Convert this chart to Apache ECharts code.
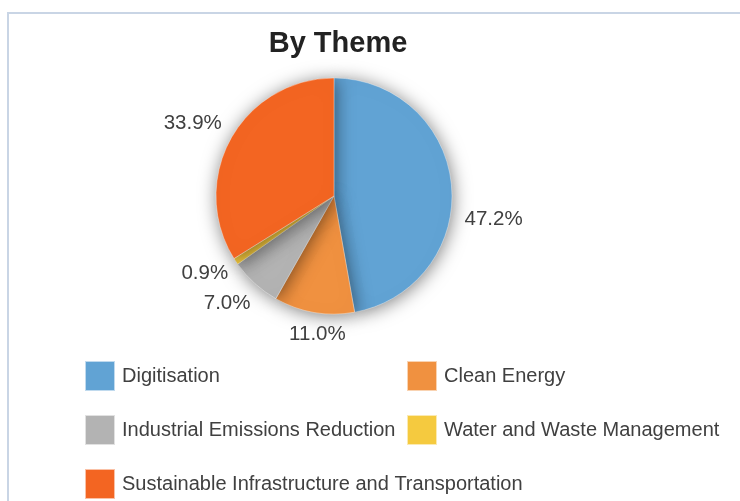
<!DOCTYPE html>
<html>
<head>
<meta charset="utf-8">
<script src="https://cdn.jsdelivr.net/npm/echarts@6/dist/echarts.min.js"></script>
<style>
html,body{margin:0;padding:0;background:#fff;overflow:hidden;}
#frame{position:absolute;left:7px;top:12px;width:800px;height:600px;border-left:2px solid #c9d5e5;border-top:2px solid #c9d5e5;}
#chart{position:absolute;left:0;top:0;width:740px;height:501px;}
</style>
</head>
<body>
<div id="frame"></div>
<div id="chart"></div>
<script>
var categories = ['Digitisation', 'Clean Energy', 'Industrial Emissions Reduction', 'Water and Waste Management', 'Sustainable Infrastructure and Transportation'];
var values = [47.2, 11.0, 7.0, 0.9, 33.9];
var colors = ['#61a3d4', '#f09140', '#b3b3b3', '#f5ca3f', '#f36522'];
var legendCol1 = ['Digitisation', 'Industrial Emissions Reduction', 'Sustainable Infrastructure and Transportation'];
var legendCol2 = ['Clean Energy', 'Water and Waste Management'];
var labelShift = [[0, 34], [38, 14], [6, 14], [4, 8], [3, -12]];

var chart = echarts.init(document.getElementById('chart'));
var legendStyle = {
  orient: 'vertical', top: 360, height: 160, padding: 0,
  itemWidth: 30, itemHeight: 30, itemGap: 22, icon: 'rect',
  textStyle: {fontFamily: 'Liberation Sans, Arial, sans-serif', fontSize: 20, color: '#404040', padding: [0, 0, 0, 2]}
};
chart.setOption({
  animation: false,
  color: colors,
  title: {
    text: 'By Theme', left: 333, top: 24, textAlign: 'center',
    textStyle: {fontFamily: 'Liberation Sans, Arial, sans-serif', fontSize: 29, fontWeight: 'bold', color: '#222'}
  },
  legend: [
    Object.assign({left: 84, data: legendCol1}, legendStyle),
    Object.assign({left: 406, data: legendCol2}, legendStyle)
  ],
  series: [{
    type: 'pie',
    center: [334, 196],
    radius: 118,
    startAngle: 90,
    clockwise: true,
    avoidLabelOverlap: false,
    data: categories.map(function (c, i) { return {name: c, value: values[i]}; }),
    itemStyle: {borderColor: 'rgba(255,255,255,0.6)', borderWidth: 0.6, shadowBlur: 18, shadowColor: 'rgba(0,0,0,0.5)', shadowOffsetX: 1, shadowOffsetY: 2},
    label: {
      show: true, position: 'outside',
      formatter: function (p) { return p.value.toFixed(1) + '%'; },
      fontFamily: 'Liberation Sans, Arial, sans-serif', fontSize: 20.5, color: '#404040'
    },
    labelLine: {show: false, length: 8, length2: 0},
    labelLayout: function (p) {
      var s = labelShift[p.dataIndex];
      return {dx: s[0], dy: s[1]};
    },
    emphasis: {disabled: true}
  }]
});
</script>
</body>
</html>
